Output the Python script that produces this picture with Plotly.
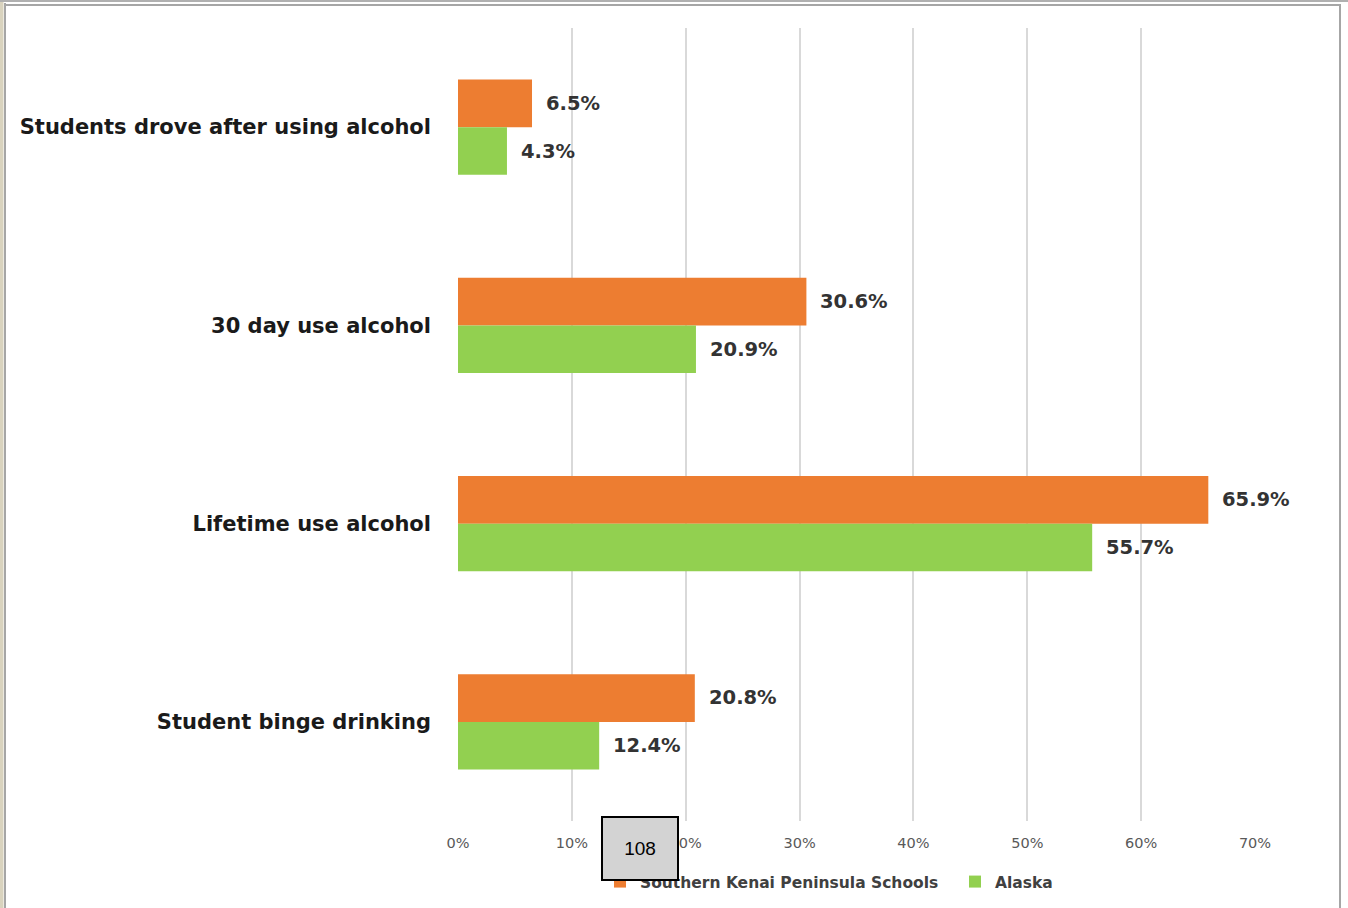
import plotly.graph_objects as go

categories = ["Students drove after using alcohol", "30 day use alcohol",
              "Lifetime use alcohol", "Student binge drinking"]
series_names = ["Southern Kenai Peninsula Schools", "Alaska"]
kenai_values = [6.5, 30.6, 65.9, 20.8]
alaska_values = [4.3, 20.9, 55.7, 12.4]
tick_values = [0, 10, 20, 30, 40, 50, 60, 70]
tick_labels = ["0%", "10%", "20%", "30%", "40%", "50%", "60%", "70%"]
page_number = "108"

W, H = 1348, 908
L, R, T, B = 458, 93, 28, 87
pw, ph = W - L - R, H - T - B

def px(x):
    return (x - L) / pw

def py(y):
    return (H - B - y) / ph

FONT = "DejaVu Sans"
fig = go.Figure()
fig.add_trace(go.Bar(y=categories, x=kenai_values, name=series_names[0], orientation="h",
                     marker=dict(color="#ED7D31", line=dict(width=0))))
fig.add_trace(go.Bar(y=categories, x=alaska_values, name=series_names[1], orientation="h",
                     marker=dict(color="#92D050", line=dict(width=0))))

for vals, shift in ((kenai_values, 24), (alaska_values, -24)):
    for c, v in zip(categories, vals):
        fig.add_annotation(x=v, y=c, text=f"<b>{v:.1f}%</b>", showarrow=False,
                           xanchor="left", yanchor="middle", xshift=12, yshift=shift,
                           font=dict(family=FONT, size=19.5, color="#333333"))

shapes = [
    dict(type="rect", xref="paper", yref="paper", x0=px(0), x1=px(3.5), y0=py(908), y1=py(0),
         fillcolor="#D9D3BE", line=dict(width=0), layer="above"),
    dict(type="line", xref="paper", yref="paper", x0=px(5), x1=px(5), y0=py(908), y1=py(3),
         line=dict(color="#A6A6A6", width=2), layer="above"),
    dict(type="line", xref="paper", yref="paper", x0=px(0), x1=px(1348), y0=py(1), y1=py(1),
         line=dict(color="#B0B0B0", width=2), layer="above"),
    dict(type="line", xref="paper", yref="paper", x0=px(5), x1=px(1341), y0=py(5), y1=py(5),
         line=dict(color="#A6A6A6", width=2), layer="above"),
    dict(type="line", xref="paper", yref="paper", x0=px(1340), x1=px(1340), y0=py(908), y1=py(5),
         line=dict(color="#A6A6A6", width=2), layer="above"),
]
fig.add_annotation(xref="paper", yref="paper", x=px(640), y=py(848), text=page_number,
                   showarrow=False, font=dict(family="Liberation Sans", size=19, color="#000000"),
                   xanchor="center", yanchor="middle", bgcolor="#D3D3D3",
                   bordercolor="#000000", borderwidth=2, width=74, height=61, borderpad=0)

fig.update_layout(
    width=W, height=H, margin=dict(l=L, r=R, t=T, b=B, autoexpand=False),
    paper_bgcolor="white", plot_bgcolor="white",
    barmode="group", bargap=0.52, bargroupgap=0,
    shapes=shapes,
    legend=dict(orientation="h", xref="paper", yref="container",
                x=px(600), y=(H - 882) / H, xanchor="left", yanchor="middle",
                font=dict(family=FONT, size=15.5, color="#404040", weight="bold"),
                itemwidth=30, traceorder="normal", entrywidth=310, entrywidthmode="pixels",
                bgcolor="rgba(0,0,0,0)"),
    xaxis=dict(range=[0, 70], tickvals=tick_values, ticktext=tick_labels,
               showgrid=True, gridcolor="#D9D9D9", gridwidth=2, zeroline=False,
               showline=False, ticks="", ticklabelstandoff=11, automargin=False,
               tickfont=dict(family=FONT, size=14.5, color="#595959")),
    yaxis=dict(autorange="reversed", showgrid=False, zeroline=False, showline=False,
               ticks="", ticklabelstandoff=26, automargin=False,
               tickfont=dict(family=FONT, size=21, color="#1A1A1A", weight="bold")),
)
fig.write_html("out.html", config={"displayModeBar": False},
               post_script="document.body.style.margin='0';")
